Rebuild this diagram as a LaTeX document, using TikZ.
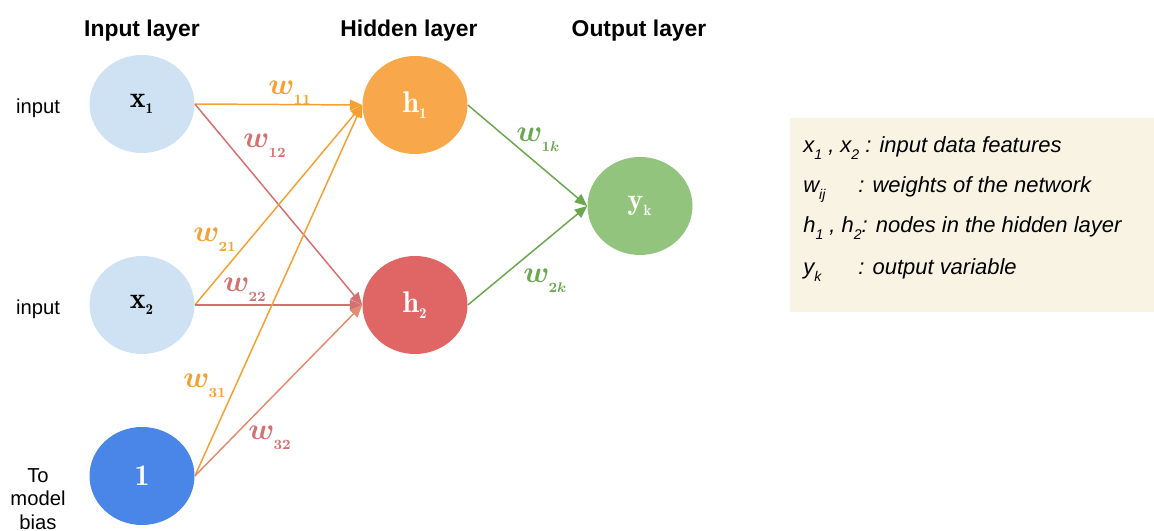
\documentclass[tikz,border=0pt]{standalone}
\usepackage{fontspec}
\setsansfont{Liberation Sans}
\usepackage{amsmath}
\usepackage{bm}
\usepackage{tikz}
\usetikzlibrary{
  arrows.meta,
  shapes.geometric
}
\definecolor{inblue}{RGB}{207,226,243}
\definecolor{biasblue}{RGB}{74,134,232}
\definecolor{hidorange}{RGB}{248,168,74}
\definecolor{hidred}{RGB}{224,102,102}
\definecolor{outgreen}{RGB}{147,196,125}
\definecolor{edgeorange}{RGB}{246,160,50}
\definecolor{edgered}{RGB}{214,112,112}
\definecolor{edgesalmon}{RGB}{226,140,112}
\definecolor{edgegreen}{RGB}{106,168,79}
\definecolor{legendbg}{RGB}{248,243,226}
\newcommand{\wgt}[1]{$\bm{w}_{\lower3pt\hbox{$\scriptscriptstyle\bm{#1}$}}$}
\newcommand{\nlab}[2]{$\mathbf{#1}_{\lower1pt\hbox{$\scriptscriptstyle\mathbf{#2}$}}$}
\newcommand{\lsub}[1]{\raisebox{-0.55ex}{\fontsize{8}{8}\selectfont #1}}

\begin{document}
\begin{tikzpicture}[
  >={Triangle[length=7pt,width=6pt]},
  font=\sffamily,
  neuron/.style={ellipse, minimum width=2.1cm, minimum height=1.96cm,
    inner sep=0pt, font=\fontsize{17}{19}\selectfont},
  layertitle/.style={anchor=base, font=\sffamily\bfseries\fontsize{13}{15}\selectfont},
  sidelabel/.style={anchor=base, inner sep=0pt, font=\sffamily\fontsize{11.5}{13.5}\selectfont},
  wlabel/.style={anchor=base west, inner sep=0pt, font=\fontsize{17}{20}\selectfont},
  legline/.style={anchor=base west, inner sep=0pt,
    font=\sffamily\itshape\fontsize{12.5}{15}\selectfont},
  conn/.style={->, line width=0.85pt}
]
  \useasboundingbox (0,0) rectangle (23.08,10.62);
  % layer titles
  \node[layertitle] (tin) at (2.84,9.88) {Input layer};
  \node[layertitle] (thid) at (8.18,9.88) {Hidden layer};
  \node[layertitle] (tout) at (12.78,9.88) {Output layer};
  % side notes
  \node[sidelabel] (in1) at (0.76,8.34) {input};
  \node[sidelabel] (in2) at (0.76,4.32) {input};
  \node[sidelabel, anchor=north, align=center] (biasnote) at (0.76,1.26) {To\\model\\bias};
  % neurons
  \node[neuron, fill=inblue] (x1) at (2.84,8.54) {\nlab{x}{1}};
  \node[neuron, fill=inblue] (x2) at (2.84,4.52) {\nlab{x}{2}};
  \node[neuron, fill=biasblue, text=white] (b) at (2.84,1.10) {$\mathbf{1}$};
  \node[neuron, fill=hidorange, text=white] (h1) at (8.30,8.52) {\nlab{h}{1}};
  \node[neuron, fill=hidred, text=white] (h2) at (8.30,4.52) {\nlab{h}{2}};
  \node[neuron, fill=outgreen, text=white] (yk) at (12.80,6.50) {\nlab{y}{k}};
  % weights
  \draw[conn, edgeorange] (x1.east) -- (h1.west);
  \draw[conn, edgered] (x1.east) -- (h2.west);
  \draw[conn, edgeorange] (x2.east) -- (h1.west);
  \draw[conn, edgered] (x2.east) -- (h2.west);
  \draw[conn, edgeorange] (b.east) -- (h1.west);
  \draw[conn, edgesalmon] (b.east) -- (h2.west);
  \draw[conn, edgegreen] (h1.east) -- (yk.west);
  \draw[conn, edgegreen] (h2.east) -- (yk.west);
  \node[wlabel, text=edgeorange] (w11) at (5.36,8.72) {\wgt{11}};
  \node[wlabel, text=edgered] (w12) at (4.86,7.66) {\wgt{12}};
  \node[wlabel, text=edgeorange] (w21) at (3.86,5.78) {\wgt{21}};
  \node[wlabel, text=edgered] (w22) at (4.46,4.78) {\wgt{22}};
  \node[wlabel, text=edgeorange] (w31) at (3.66,2.86) {\wgt{31}};
  \node[wlabel, text=edgered] (w32) at (4.96,1.82) {\wgt{32}};
  \node[wlabel, text=edgegreen] (w1k) at (10.32,7.78) {\wgt{1k}};
  \node[wlabel, text=edgegreen] (w2k) at (10.46,4.96) {\wgt{2k}};
  % legend
  \node[fill=legendbg, anchor=south west, inner sep=0pt,
    minimum width=7.28cm, minimum height=3.88cm] (legend) at (15.80,4.38) {};
  \node[legline] (leg1) at (16.06,7.56)
    {x\lsub{1} , x\lsub{2} : input data features};
  \node[legline] (leg2) at (16.06,6.76)
    {\makebox[1.1cm][l]{w\lsub{ij}}: weights of the network};
  \node[legline] (leg3) at (16.06,5.96)
    {h\lsub{1} , h\lsub{2}: nodes in the hidden layer};
  \node[legline] (leg4) at (16.06,5.12)
    {\makebox[1.1cm][l]{y\lsub{k}}: output variable};
\end{tikzpicture}
\end{document}
